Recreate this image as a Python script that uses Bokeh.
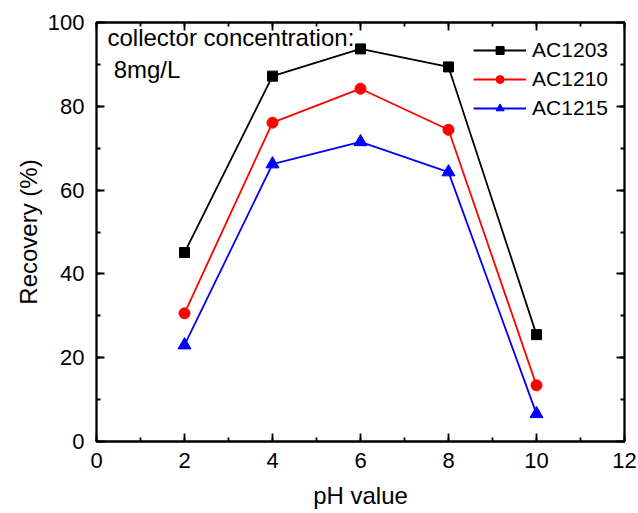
from bokeh.plotting import figure
from bokeh.models import (Range1d, SingleIntervalTicker, LinearAxis, Label, Legend,
                          LegendItem, CustomJSTickFormatter)
from bokeh.embed import file_html
from bokeh.resources import INLINE

ph = [2, 4, 6, 8, 10]
ac1203 = [45.1, 87.2, 93.7, 89.4, 25.5]
ac1210 = [30.6, 76.1, 84.2, 74.4, 13.4]
ac1215 = [23.0, 66.2, 71.5, 64.3, 6.6]
series_names = ["AC1203", "AC1210", "AC1215"]
colors = ["black", "red", "blue"]
markers = ["square", "circle", "triangle"]
marker_sizes = [10, 11, 13]
x_title = "pH value"
y_title = "Recovery (%)"

FONT = "Liberation Sans"

p = figure(width=638, height=513, output_backend="svg", toolbar_location=None,
           x_range=Range1d(0, 12), y_range=Range1d(0, 100),
           min_border_left=96, min_border_right=14, min_border_top=22, min_border_bottom=72)
p.frame_width = 528
p.frame_height = 419
p.grid.visible = False
p.outline_line_color = "black"
p.outline_line_width = 1.8
p.background_fill_color = "white"
p.border_fill_color = "white"

p.xaxis.ticker = SingleIntervalTicker(interval=2, num_minor_ticks=2)
p.yaxis.ticker = SingleIntervalTicker(interval=20, num_minor_ticks=2)
p.xaxis.axis_label = x_title
p.yaxis.axis_label = y_title

for ax in [p.xaxis[0], p.yaxis[0]]:
    ax.axis_line_width = 1.8
    ax.major_tick_in = 8
    ax.major_tick_out = 0
    ax.minor_tick_in = 4
    ax.minor_tick_out = 0
    ax.major_tick_line_width = 1.8
    ax.minor_tick_line_width = 1.8
    ax.major_label_text_font = FONT
    ax.major_label_text_font_size = "22px"
    ax.major_label_text_color = "black"
    ax.axis_label_text_font = FONT
    ax.axis_label_text_font_size = "24px"
    ax.axis_label_text_font_style = "normal"
    ax.axis_label_text_color = "black"
p.xaxis.major_label_standoff = 11
p.xaxis.axis_label_standoff = 11
p.yaxis.major_label_standoff = 12
p.yaxis.axis_label_standoff = 3

blank = CustomJSTickFormatter(code="return ''")
top = LinearAxis(ticker=SingleIntervalTicker(interval=2, num_minor_ticks=2),
                 formatter=blank, axis_line_width=1.8,
                 major_tick_in=8, major_tick_out=0, minor_tick_in=4, minor_tick_out=0,
                 major_tick_line_width=1.8, minor_tick_line_width=1.8)
right = LinearAxis(ticker=SingleIntervalTicker(interval=20, num_minor_ticks=2),
                   formatter=blank, axis_line_width=1.8,
                   major_tick_in=8, major_tick_out=0, minor_tick_in=4, minor_tick_out=0,
                   major_tick_line_width=1.8, minor_tick_line_width=1.8)
p.add_layout(top, "above")
p.add_layout(right, "right")

items = []
for name, ys, c, m, s in zip(series_names, [ac1203, ac1210, ac1215], colors, markers, marker_sizes):
    l = p.line(ph, ys, line_color=c, line_width=1.8)
    sc = p.scatter(ph, ys, marker=m, size=s, fill_color=c, line_color=c)
    items.append(LegendItem(label=name, renderers=[l, sc]))

legend = Legend(items=items, location="top_right")
legend.border_line_alpha = 0
legend.background_fill_alpha = 0
legend.label_text_font = FONT
legend.label_text_font_size = "21px"
legend.label_text_color = "black"
legend.glyph_width = 53
legend.glyph_height = 20
legend.label_height = 20
legend.spacing = 5
legend.margin = 3
legend.padding = 13
legend.label_standoff = 6
p.add_layout(legend)

p.add_layout(Label(x=0.25, y=96.4, text="collector concentration:", text_font=FONT,
                   text_font_size="24px", text_baseline="middle", text_color="black"))
p.add_layout(Label(x=0.39, y=88.7, text="8mg/L", text_font=FONT,
                   text_font_size="24px", text_baseline="middle", text_color="black"))

open("out.html", "w").write(file_html(p, INLINE))
